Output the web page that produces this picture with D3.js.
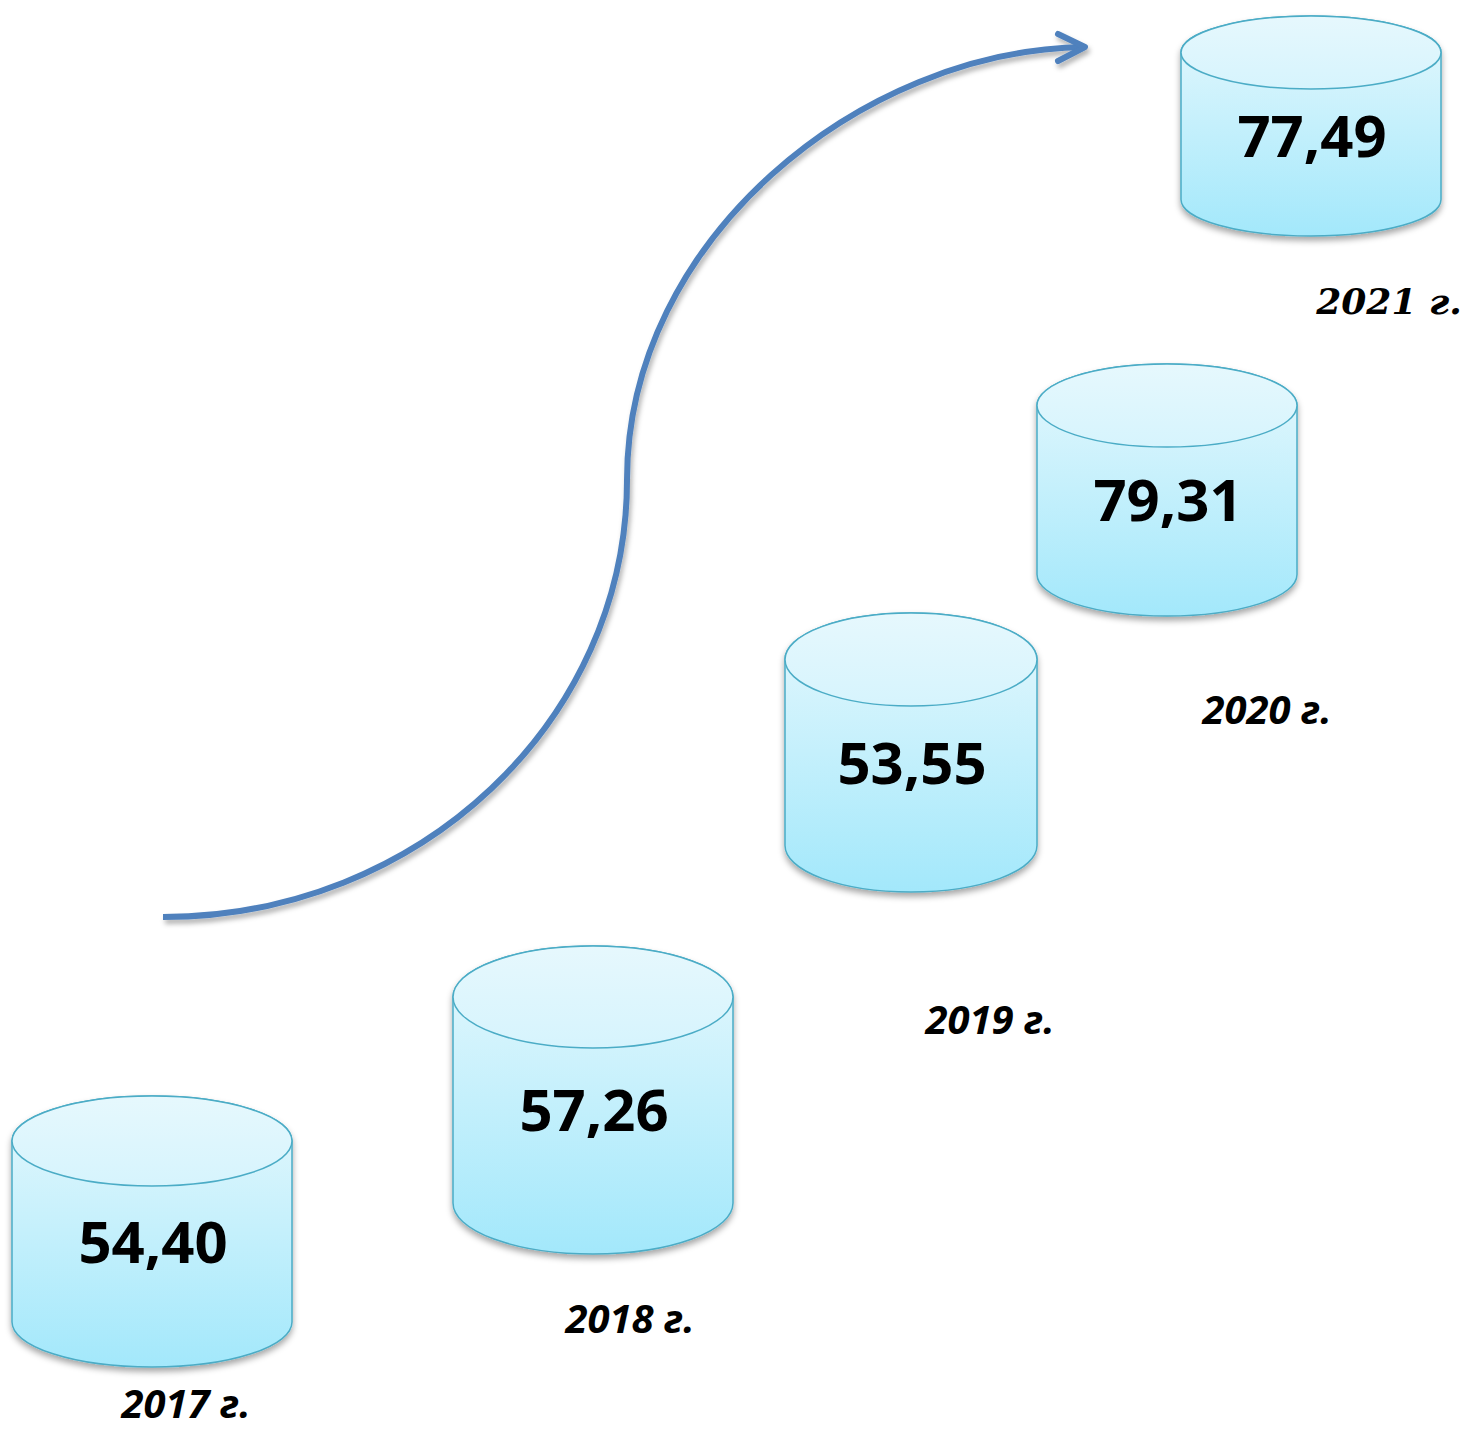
<!DOCTYPE html>
<html>
<head>
<meta charset="utf-8">
<script src="https://cdn.jsdelivr.net/npm/d3@7"></script>
<style>
  body { margin: 0; background: #fff; }
  svg { display: block; }
</style>
</head>
<body>
<div id="chart"></div>
<script>
const years = ["2017 г.", "2018 г.", "2019 г.", "2020 г.", "2021 г."];
const values = [54.40, 57.26, 53.55, 79.31, 77.49];

// layout of each drum (not data)
const centerX = [152, 593, 911, 1167, 1311];
const topY = [1096, 946, 613, 364, 16];
const bottomY = [1367, 1254, 892, 616, 236];
const halfW = [140, 140, 126, 130, 130];
const capRy = [45, 51, 46.5, 41.5, 36.5];
const labelPos = [[186, 1404], [630, 1319], [990, 1020], [1267, 710], [1389, 300]];

const width = 1469, height = 1430;

const svg = d3.select("#chart")
    .append("svg")
    .attr("width", width)
    .attr("height", height);

const defs = svg.append("defs");

const grad = defs.append("linearGradient")
    .attr("id", "body")
    .attr("x1", 0).attr("y1", 0).attr("x2", 0).attr("y2", 1);
grad.append("stop").attr("offset", "0%").attr("stop-color", "#e6f8fd");
grad.append("stop").attr("offset", "100%").attr("stop-color", "#a3e8fb");

const capGrad = defs.append("linearGradient")
    .attr("id", "cap")
    .attr("x1", 0).attr("y1", 0).attr("x2", 0).attr("y2", 1);
capGrad.append("stop").attr("offset", "0%").attr("stop-color", "#e6f8fd");
capGrad.append("stop").attr("offset", "100%").attr("stop-color", "#d6f4fd");

const shadow = defs.append("filter")
    .attr("id", "shadow")
    .attr("x", "-10%").attr("y", "-10%").attr("width", "120%").attr("height", "130%");
shadow.append("feDropShadow")
    .attr("dx", 0).attr("dy", 4).attr("stdDeviation", 3)
    .attr("flood-color", "#000").attr("flood-opacity", 0.35);

const fmt = v => d3.format(".2f")(v).replace(".", ",");

const drums = svg.selectAll("g.drum")
    .data(values)
    .join("g")
    .attr("class", "drum");

drums.append("path")
    .attr("filter", "url(#shadow)")
    .attr("fill", "url(#body)")
    .attr("stroke", "#4bacc6")
    .attr("stroke-width", 1.5)
    .attr("d", (d, i) => {
        const l = centerX[i] - halfW[i], r = centerX[i] + halfW[i];
        const ct = topY[i] + capRy[i], cb = bottomY[i] - capRy[i];
        return `M${l},${ct} L${l},${cb} A${halfW[i]},${capRy[i]} 0 0 0 ${r},${cb} L${r},${ct} A${halfW[i]},${capRy[i]} 0 0 0 ${l},${ct} Z`;
    });

drums.append("ellipse")
    .attr("cx", (d, i) => centerX[i])
    .attr("cy", (d, i) => topY[i] + capRy[i])
    .attr("rx", (d, i) => halfW[i])
    .attr("ry", (d, i) => capRy[i])
    .attr("fill", "url(#cap)")
    .attr("stroke", "#4bacc6")
    .attr("stroke-width", 1.5);

drums.append("text")
    .attr("x", (d, i) => centerX[i] + 1)
    .attr("y", (d, i) => (topY[i] + bottomY[i]) / 2 + 31)
    .attr("text-anchor", "middle")
    .style("font-family", "'Open Sans', sans-serif")
    .style("font-weight", "700")
    .style("font-size", "58px")
    .attr("fill", "#000")
    .text(d => fmt(d));

svg.selectAll("text.year")
    .data(years)
    .join("text")
    .attr("class", "year")
    .attr("x", (d, i) => labelPos[i][0])
    .attr("y", (d, i) => labelPos[i][1] + 14)
    .attr("text-anchor", "middle")
    .style("font-family", (d, i) => i === 4 ? "'DejaVu Serif', serif" : "'Open Sans', sans-serif")
    .style("font-style", "italic")
    .style("font-weight", "700")
    .style("font-size", (d, i) => i === 4 ? "36px" : "40px")
    .text(d => d);

// growth arrow
const arrowFilter = defs.append("filter")
    .attr("id", "ashadow")
    .attr("x", "-10%").attr("y", "-10%").attr("width", "120%").attr("height", "120%");
arrowFilter.append("feDropShadow")
    .attr("dx", 2).attr("dy", 4).attr("stdDeviation", 2.5)
    .attr("flood-color", "#000").attr("flood-opacity", 0.3);

const arrow = d3.path();
arrow.moveTo(163, 917);
arrow.bezierCurveTo(420, 917, 627, 720, 627, 480);
arrow.bezierCurveTo(627, 240, 860, 50, 1085, 47);

const ag = svg.append("g").attr("filter", "url(#ashadow)");
ag.append("path")
    .attr("d", arrow.toString())
    .attr("fill", "none")
    .attr("stroke", "#4f81bd")
    .attr("stroke-width", 6);
ag.append("path")
    .attr("d", "M1058,34 L1085,47 L1058,61")
    .attr("fill", "none")
    .attr("stroke", "#4f81bd")
    .attr("stroke-width", 6)
    .attr("stroke-linecap", "round")
    .attr("stroke-linejoin", "round");
</script>
</body>
</html>
